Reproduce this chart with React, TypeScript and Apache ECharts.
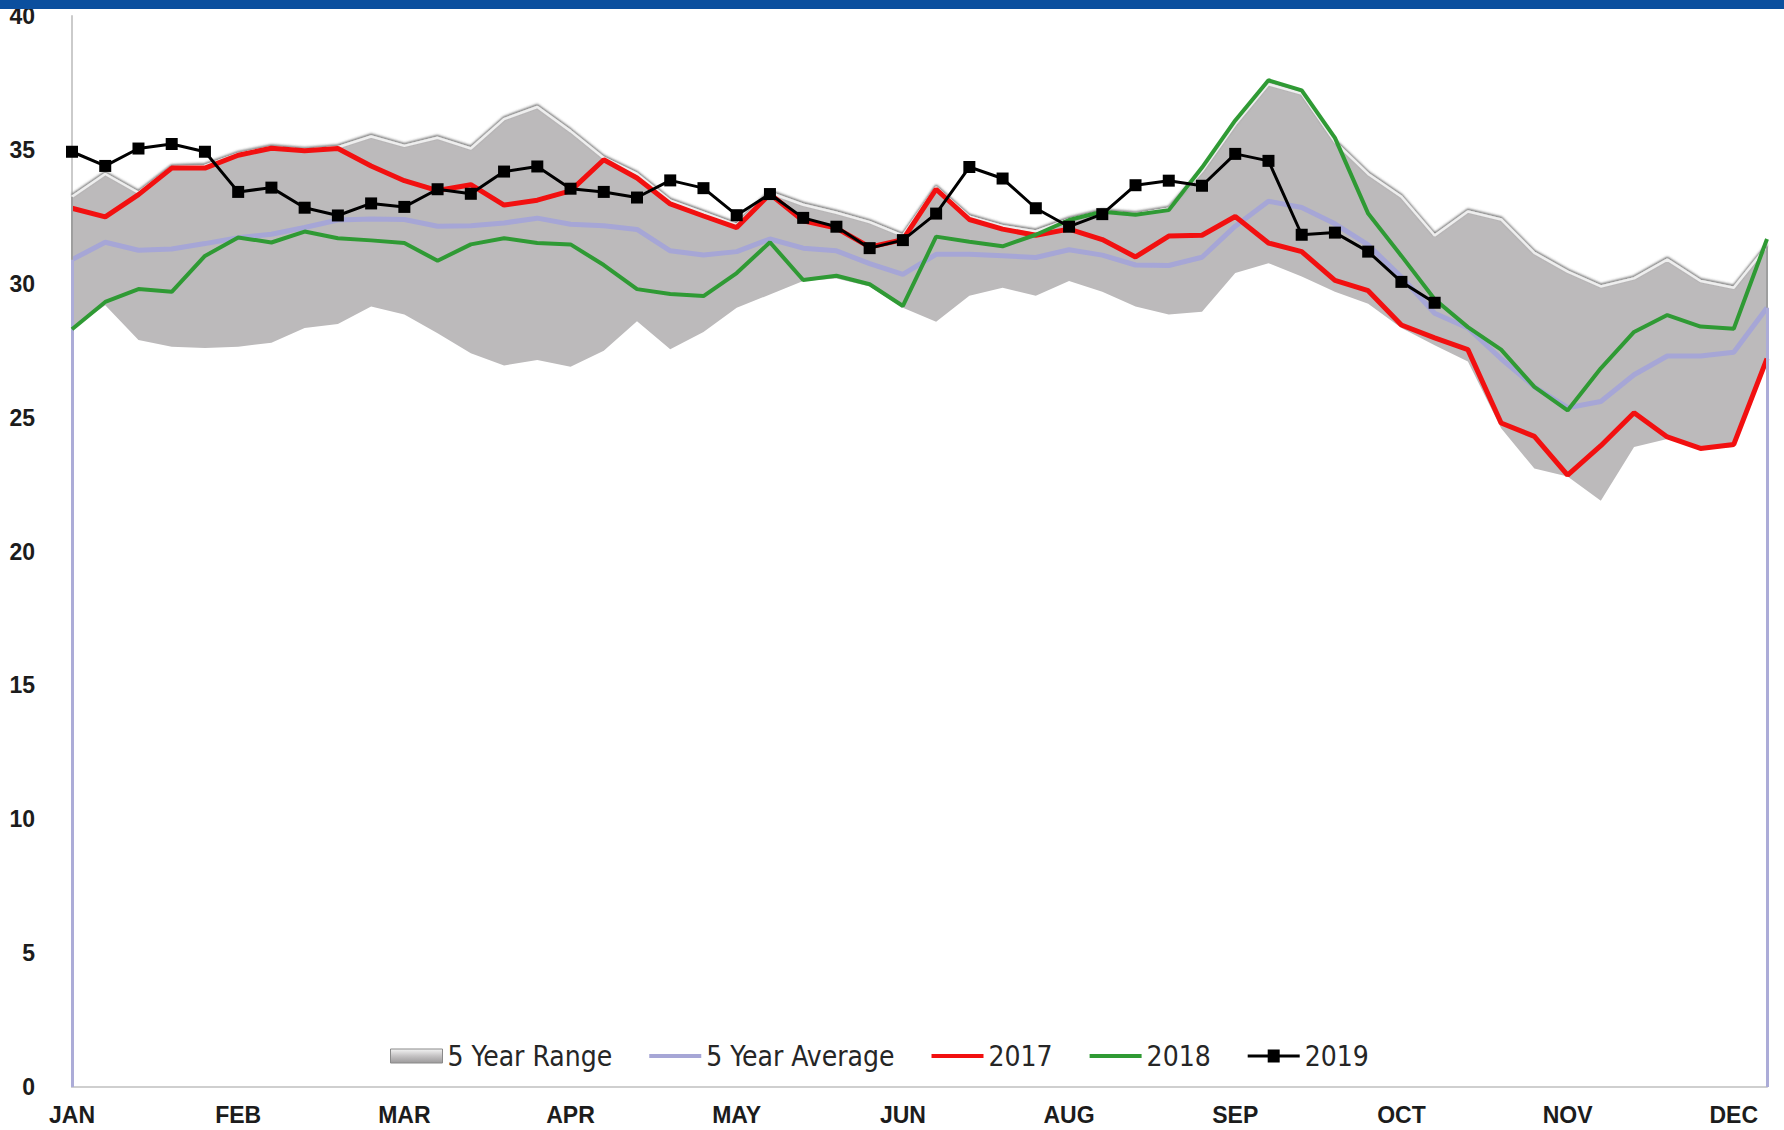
import React, { useEffect, useRef } from "react";
import * as echarts from "echarts";

const monthLabels = ["JAN", "FEB", "MAR", "APR", "MAY", "JUN", "AUG", "SEP", "OCT", "NOV", "DEC"];
const weeks = Array.from({ length: 52 }, (_, i) => "W" + (i + 1));

const rangeMax = [33.25, 34.1, 33.4, 34.35, 34.4, 34.85, 35.1, 35.0, 35.1, 35.5, 35.15, 35.45, 35.05, 36.15, 36.6, 35.7, 34.7, 34.1, 33.1, 32.65, 32.2, 33.4, 32.95, 32.65, 32.3, 31.8, 33.6, 32.5, 32.15, 31.95, 32.4, 32.7, 32.6, 32.8, 34.2, 35.95, 37.45, 37.1, 35.3, 34.1, 33.25, 31.8, 32.7, 32.4, 31.15, 30.45, 29.9, 30.2, 30.9, 30.1, 29.85, 31.4];
const rangeMin = [28.3, 29.2, 27.9, 27.65, 27.6, 27.65, 27.8, 28.35, 28.5, 29.15, 28.85, 28.15, 27.4, 26.95, 27.15, 26.9, 27.5, 28.6, 27.55, 28.2, 29.1, 29.6, 30.1, 30.2, 29.9, 29.1, 28.58, 29.55, 29.85, 29.55, 30.1, 29.7, 29.15, 28.85, 28.95, 30.4, 30.77, 30.27, 29.7, 29.25, 28.35, 27.7, 27.1, 24.6, 23.1, 22.8, 21.9, 23.9, 24.2, 23.8, 23.9, 27.0];
const avg5 = [30.9, 31.55, 31.25, 31.3, 31.5, 31.72, 31.85, 32.1, 32.38, 32.42, 32.4, 32.15, 32.17, 32.27, 32.45, 32.22, 32.17, 32.03, 31.23, 31.07, 31.2, 31.67, 31.33, 31.23, 30.75, 30.35, 31.1, 31.1, 31.05, 30.98, 31.27, 31.07, 30.7, 30.68, 30.99, 32.15, 33.08, 32.85, 32.24, 31.45, 30.25, 28.9, 28.35, 27.2, 26.15, 25.37, 25.6, 26.6, 27.3, 27.3, 27.44, 29.1];
const y2017 = [32.82, 32.5, 33.33, 34.32, 34.32, 34.8, 35.06, 34.97, 35.05, 34.4, 33.85, 33.48, 33.7, 32.94, 33.12, 33.47, 34.63, 33.95, 32.98, 32.53, 32.1, 33.35, 32.35, 32.08, 31.37, 31.65, 33.53, 32.4, 32.04, 31.81, 32.04, 31.65, 31.0, 31.78, 31.81, 32.51, 31.52, 31.2, 30.13, 29.74, 28.46, 27.98, 27.54, 24.8, 24.3, 22.85, 23.95, 25.18, 24.28, 23.85, 24.0, 27.2];
const y2018 = [28.3, 29.32, 29.8, 29.7, 31.04, 31.73, 31.54, 31.95, 31.7, 31.62, 31.52, 30.86, 31.47, 31.7, 31.52, 31.47, 30.7, 29.8, 29.62, 29.54, 30.4, 31.55, 30.14, 30.3, 29.98, 29.17, 31.76, 31.57, 31.4, 31.83, 32.38, 32.69, 32.58, 32.75, 34.34, 36.1, 37.6, 37.22, 35.45, 32.62, 31.04, 29.42, 28.38, 27.54, 26.15, 25.27, 26.84, 28.2, 28.83, 28.4, 28.32, 31.67];
const y2019 = [34.93, 34.4, 35.05, 35.22, 34.93, 33.43, 33.59, 32.84, 32.55, 33.0, 32.87, 33.53, 33.36, 34.19, 34.38, 33.55, 33.43, 33.22, 33.86, 33.57, 32.56, 33.35, 32.46, 32.13, 31.33, 31.63, 32.62, 34.36, 33.93, 32.82, 32.13, 32.6, 33.68, 33.85, 33.66, 34.85, 34.59, 31.83, 31.91, 31.2, 30.07, 29.29];

const lineIcon = "path://M0,0 L52,0 L52,4 L0,4 Z";
const markerLineIcon = "path://M0,5 L52,5 L52,8 L0,8 Z M20,0 L32,0 L32,13 L20,13 Z";

export default function App() {
  const ref = useRef<HTMLDivElement>(null);
  useEffect(() => {
    if (!ref.current) return;
    const chart = echarts.init(ref.current, null, { renderer: "svg" });
    const last = weeks.length - 1;
    const rangeSpan = rangeMax.map((v, i) => +(v - rangeMin[i]).toFixed(3));
    const axisFont = {
      fontFamily: "'Liberation Sans', Arial, sans-serif",
      fontWeight: "bold" as const,
      fontSize: 23,
      color: "#1c1c1c",
    };
    chart.setOption({
      animation: false,
      backgroundColor: "#ffffff",
      grid: { left: 72, right: 17, top: 16, bottom: 43, containLabel: false },
      xAxis: {
        type: "category",
        data: weeks,
        boundaryGap: false,
        axisLine: { show: true, lineStyle: { color: "#cfcfcf", width: 2 } },
        axisTick: { show: false },
        splitLine: { show: false },
        axisLabel: {
          ...axisFont,
          interval: 4,
          margin: 16,
          formatter: (_v: string, i: number) => monthLabels[Math.round(i / 5)] ?? "",
        },
      },
      yAxis: {
        type: "value",
        min: 0,
        max: 40,
        interval: 5,
        axisLine: { show: true, lineStyle: { color: "#cbcbcb", width: 2 } },
        axisTick: { show: false },
        splitLine: { show: false },
        axisLabel: { ...axisFont, margin: 37 },
      },
      legend: {
        left: 385,
        top: 1037,
        itemWidth: 52,
        itemHeight: 14,
        itemGap: 37,
        textStyle: {
          fontFamily: "'Liberation Sans Narrow', 'Arial Narrow', 'DejaVu Sans Condensed', sans-serif",
          fontSize: 28,
          color: "#262626",
        },
        data: [
          {
            name: "5 Year Range",
            icon: "rect",
            itemStyle: {
              color: new echarts.graphic.LinearGradient(0, 0, 0, 1, [
                { offset: 0, color: "#f4f4f4" },
                { offset: 0.5, color: "#c4c2c3" },
                { offset: 1, color: "#9c9a9b" },
              ]),
              borderColor: "#8a8a8a",
              borderWidth: 1,
            },
          },
          { name: "5 Year Average", icon: lineIcon },
          { name: "2017", icon: lineIcon },
          { name: "2018", icon: lineIcon },
          { name: "2019", icon: markerLineIcon },
        ],
      },
      graphic: [
        {
          type: "rect",
          z: 100,
          shape: { x: 0, y: 0, width: 1784, height: 9 },
          style: { fill: "#0b4f9e" },
        },
      ],
      series: [
        {
          name: "rangeBase",
          type: "line",
          stack: "range",
          data: rangeMin,
          symbol: "none",
          lineStyle: { width: 0, opacity: 0 },
          silent: true,
          z: 1,
        },
        {
          name: "5 Year Range",
          type: "line",
          stack: "range",
          data: rangeSpan,
          symbol: "none",
          lineStyle: { width: 0, opacity: 0 },
          itemStyle: { color: "#bcbabb" },
          areaStyle: { color: "#bcbabb", opacity: 1 },
          silent: true,
          z: 1,
          markLine: {
            symbol: "none",
            silent: true,
            label: { show: false },
            lineStyle: { color: "#9e9e9e", width: 2, type: "solid" },
            data: [
              [{ coord: [weeks[0], 0] }, { coord: [weeks[0], rangeMax[0]] }],
              [{ coord: [weeks[last], 0] }, { coord: [weeks[last], rangeMax[last]] }],
            ],
          },
        },
        {
          name: "rangeTop",
          type: "line",
          data: rangeMax,
          symbol: "none",
          silent: true,
          z: 2,
          lineStyle: {
            color: "#eeeeee",
            width: 2.5,
            shadowColor: "rgba(60,60,60,0.8)",
            shadowBlur: 2,
            shadowOffsetY: -1.5,
          },
        },
        {
          name: "5 Year Average",
          type: "line",
          data: avg5,
          symbol: "none",
          z: 3,
          itemStyle: { color: "#a6a6d6" },
          lineStyle: { color: "#a6a6d6", width: 5 },
          markLine: {
            symbol: "none",
            silent: true,
            label: { show: false },
            lineStyle: { color: "#acacd8", width: 3, type: "solid" },
            data: [
              [{ coord: [weeks[0], 0] }, { coord: [weeks[0], avg5[0]] }],
              [{ coord: [weeks[last], 0] }, { coord: [weeks[last], avg5[last]] }],
            ],
          },
        },
        {
          name: "2017",
          type: "line",
          data: y2017,
          symbol: "none",
          z: 4,
          itemStyle: { color: "#f21010" },
          lineStyle: { color: "#f21010", width: 5 },
        },
        {
          name: "2018",
          type: "line",
          data: y2018,
          symbol: "none",
          z: 5,
          itemStyle: { color: "#2f9a34" },
          lineStyle: { color: "#2f9a34", width: 4 },
        },
        {
          name: "2019",
          type: "line",
          data: y2019,
          symbol: "rect",
          symbolSize: 12,
          z: 6,
          itemStyle: { color: "#000000" },
          lineStyle: { color: "#000000", width: 3 },
        },
      ],
    });
    return () => chart.dispose();
  }, []);
  return (
    <div
      ref={ref}
      style={{ position: "absolute", left: 0, top: 0, width: 1784, height: 1130, background: "#fff" }}
    />
  );
}
